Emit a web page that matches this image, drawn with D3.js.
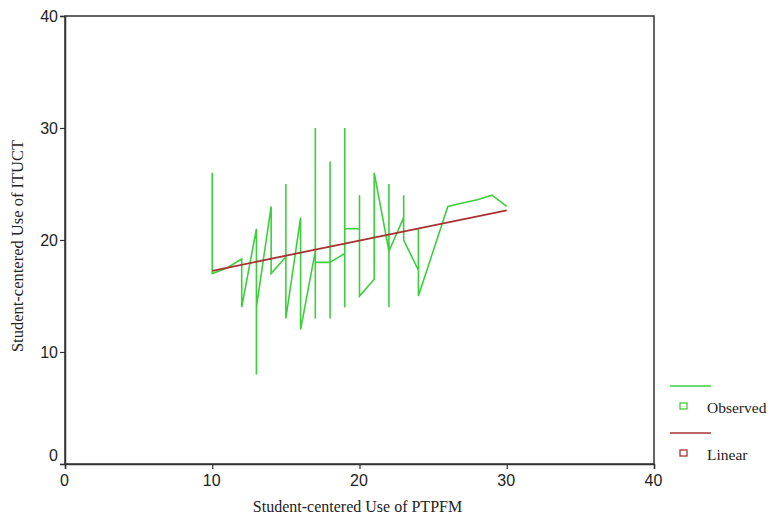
<!DOCTYPE html>
<html>
<head>
<meta charset="utf-8">
<script src="https://cdn.jsdelivr.net/npm/d3@7"></script>
<style>
  html, body { margin: 0; padding: 0; background: #fff; }
  svg { display: block; }
</style>
</head>
<body>
<svg id="chart" width="779" height="523"></svg>
<script>
// Observed series (path order, as drawn)
const obsX = [10,10,11,12,12,13,13,13,14,14,15,15,15,16,16,17,17,17,17,18,18,18,18,19,19,19,19,20,20,20,21,21,22,22,22,22,23,23,23,24,24,24,26,27,28,29,30];
const obsY = [26,17,17.5,18.3,14,21,8,14,23,17,18.5,25,13,22,12,19,30,13,18,18,27,13,18,18.8,30,14,21,21,24,15,16.5,26,19,25,14,19,22,24,20,17.3,21,15,23,23.3,23.6,24,23];
// Linear fit endpoints
const linX = [10, 30];
const linY = [17.25, 22.65];
// Axis ticks
const xTicks = [0, 10, 20, 30, 40];
const yTicks = [0, 10, 20, 30, 40];
const seriesNames = ["Observed", "Linear"];
const seriesColors = ["#3ccf3c", "#a83232"];

const svg = d3.select("#chart");
const L = 65, R = 654, T = 16, B = 464;
const x = d3.scaleLinear().domain([0, 40]).range([L, R]);
const y = d3.scaleLinear().domain([0, 40]).range([B, T]);

const tickFont = "'Liberation Sans Narrow','Arial Narrow','Liberation Sans',sans-serif";
const serif = "'Liberation Serif','Times New Roman',serif";

// frame
svg.append("rect").attr("x", L).attr("y", T).attr("width", R - L).attr("height", B - T)
  .attr("fill", "none").attr("stroke", "#333").attr("stroke-width", 1.5);

// axes
const xAxis = svg.append("g").attr("transform", `translate(0,${B})`)
  .call(d3.axisBottom(x).tickValues(xTicks).tickSize(5).tickFormat(d3.format("d")));
const yAxis = svg.append("g").attr("transform", `translate(${L},0)`)
  .call(d3.axisLeft(y).tickValues(yTicks).tickSize(5).tickFormat(d3.format("d")));
[xAxis, yAxis].forEach(g => {
  g.select(".domain").attr("stroke", "#333").attr("stroke-width", 1.5);
  g.selectAll(".tick line").attr("stroke", "#333").attr("stroke-width", 1.2);
  g.selectAll(".tick text").attr("font-family", tickFont).attr("font-size", 16).attr("fill", "#222");
});
xAxis.selectAll(".tick text").attr("dy", "0.9em").attr("y", 8).attr("dx", -1);
yAxis.selectAll(".tick text").attr("x", -7)
  .attr("dy", d => d === 0 ? "-0.25em" : "0.35em");

// axis titles
svg.append("text").attr("x", (L + R) / 2 - 2).attr("y", 512).attr("text-anchor", "middle")
  .attr("font-family", serif).attr("font-size", 16).attr("fill", "#222")
  .text("Student-centered Use of PTPFM");
svg.append("text").attr("transform", `translate(23,${(T + B) / 2 + 6}) rotate(-90)`)
  .attr("text-anchor", "middle")
  .attr("font-family", serif).attr("font-size", 16.5).attr("fill", "#222")
  .text("Student-centered Use of ITUCT");

// lines
const line = d3.line().x(d => x(d[0])).y(d => y(d[1]));
const obs = obsX.map((v, i) => [v, obsY[i]]);
const lin = linX.map((v, i) => [v, linY[i]]);
svg.append("path").datum(obs).attr("d", line).attr("fill", "none")
  .attr("stroke", seriesColors[0]).attr("stroke-width", 1.6).attr("stroke-linejoin", "miter");
svg.append("path").datum(lin).attr("d", line).attr("fill", "none")
  .attr("stroke", seriesColors[1]).attr("stroke-width", 1.8);

// legend
const lg = svg.append("g");
seriesNames.forEach((name, i) => {
  const oy = 386 + i * 47;
  lg.append("line").attr("x1", 670).attr("x2", 711).attr("y1", oy).attr("y2", oy)
    .attr("stroke", seriesColors[i]).attr("stroke-width", 1.6);
  lg.append("rect").attr("x", 680).attr("y", oy + 17).attr("width", 7).attr("height", 6)
    .attr("fill", "none").attr("stroke", seriesColors[i]).attr("stroke-width", 1.3);
  lg.append("text").attr("x", 707).attr("y", oy + 27).attr("font-family", serif)
    .attr("font-size", 15.5).attr("fill", "#222").text(name);
});
</script>
</body>
</html>
